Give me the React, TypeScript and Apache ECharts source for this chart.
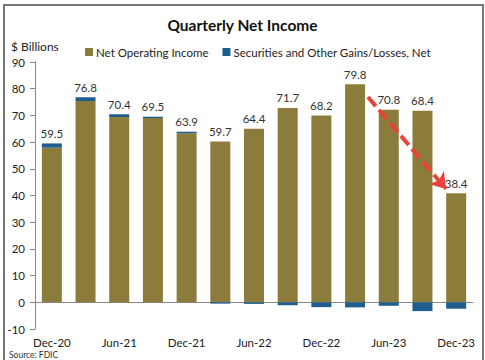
import React, { useEffect, useRef } from "react";
import * as echarts from "echarts";

const categories = ["Dec-20","Mar-21","Jun-21","Sep-21","Dec-21","Mar-22","Jun-22","Sep-22","Dec-22","Mar-23","Jun-23","Sep-23","Dec-23"];
const netOperatingIncome = [57.9, 75.4, 69.4, 69.0, 63.3, 60.2, 65.0, 72.8, 70.0, 81.7, 72.1, 71.7, 40.8];
const securitiesGains = [1.6, 1.4, 1.0, 0.5, 0.6, -0.5, -0.6, -1.1, -1.8, -1.9, -1.3, -3.3, -2.4];
const netIncomeTotals = [59.5, 76.8, 70.4, 69.5, 63.9, 59.7, 64.4, 71.7, 68.2, 79.8, 70.8, 68.4, 38.4];
const yTicks = { min: -10, max: 90, interval: 10 };

const OLIVE = "#8C7C3C";
const BLUE = "#1D5E8E";
const FONT = "Lato, 'Open Sans', sans-serif";

export default function App() {
  const ref = useRef<HTMLDivElement>(null);
  useEffect(() => {
    const chart = echarts.init(ref.current!, null, { renderer: "svg" });
    const label = (i: number) => ({
      show: true,
      position: "top" as const,
      formatter: () => netIncomeTotals[i].toFixed(1),
      color: "#333",
      fontSize: 11.5,
      fontFamily: FONT,
      distance: 4,
    });
    const noiData = netOperatingIncome.map((v, i) =>
      securitiesGains[i] > 0 ? { value: v } : { value: v, label: label(i) }
    );
    const secData = securitiesGains.map((v, i) =>
      v > 0 ? { value: v, label: label(i) } : { value: v }
    );
    chart.setOption({
      animation: false,
      backgroundColor: "#fff",
      textStyle: { fontFamily: FONT },
      title: {
        text: "Quarterly Net Income",
        left: "center",
        top: 12,
        textStyle: { fontSize: 15.5, fontWeight: "bold", color: "#111", fontFamily: FONT },
      },
      legend: {
        left: 80,
        top: 41,
        itemWidth: 8,
        itemHeight: 8,
        itemGap: 14,
        icon: "rect",
        textStyle: { fontSize: 11.5, color: "#222", fontFamily: FONT, padding: [0, 0, 0, -2] },
        data: ["Net Operating Income", "Securities and Other Gains/Losses, Net"],
      },
      grid: { left: 35, right: 12, top: 62, bottom: 31, outerBoundsMode: "none", containLabel: false },
      xAxis: {
        type: "category",
        data: categories,
        axisLine: { lineStyle: { color: "#888", width: 1 } },
        axisTick: { show: false },
        axisLabel: { interval: 1, color: "#222", fontSize: 11.5, fontFamily: FONT, margin: 7 },
      },
      yAxis: {
        type: "value",
        min: yTicks.min,
        max: yTicks.max,
        interval: yTicks.interval,
        splitLine: { show: false },
        axisLine: { show: true, lineStyle: { color: "#888" } },
        axisTick: { show: true, length: 5, lineStyle: { color: "#888" } },
        axisLabel: { color: "#222", fontSize: 11.5, fontFamily: FONT, margin: 10 },
      },
      graphic: [
        {
          type: "rect",
          shape: { x: 4, y: 5, width: 479, height: 380 },
          style: { fill: "none", stroke: "#777", lineWidth: 2 },
          silent: true,
          z: 100,
        },
        {
          type: "text",
          left: 11,
          top: 40,
          style: { text: "$ Billions", fontSize: 12, fill: "#222", fontFamily: FONT },
        },
        {
          type: "text",
          left: 9,
          top: 350,
          style: { text: "Source: FDIC", fontSize: 8.5, fill: "#333", fontFamily: FONT },
        },
      ],
      series: [
        {
          name: "Net Operating Income",
          type: "bar",
          stack: "total",
          barWidth: 20,
          itemStyle: { color: OLIVE },
          data: noiData,
        },
        {
          name: "Securities and Other Gains/Losses, Net",
          type: "bar",
          stack: "total",
          barWidth: 20,
          itemStyle: { color: BLUE },
          data: secData,
          markLine: {
            silent: true,
            symbol: ["none", "arrow"],
            symbolSize: [15, 15],
            label: { show: false },
            lineStyle: { color: "#E8433A", type: [12, 5], width: 4 },
            data: [[{ x: 368, y: 97 }, { x: 446, y: 189 }]],
          },
        },
      ],
    });
    return () => chart.dispose();
  }, []);
  return <div ref={ref} style={{ width: 485, height: 360, position: "absolute", left: 0, top: 0 }} />;
}
